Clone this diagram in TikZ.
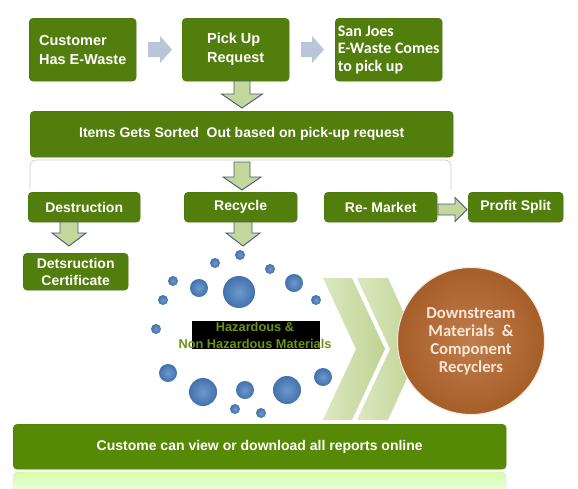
\documentclass[tikz,border=0pt]{standalone}
\usepackage{fontspec}
\setmainfont{Liberation Sans}
\newfontfamily\calfont{Carlito}
\definecolor{boxgreen}{HTML}{517E0D}
\definecolor{boxedge}{HTML}{47700A}
\definecolor{botgreen}{HTML}{568A06}
\definecolor{arrgreen}{HTML}{C3D69B}
\definecolor{arredge}{HTML}{4A5878}
\definecolor{arrgray}{HTML}{BAC6D8}
\definecolor{dotblue}{HTML}{4A7EC0}
\definecolor{chevA}{HTML}{DCE7C0}
\definecolor{chevB}{HTML}{BFD393}
\definecolor{circbrown}{HTML}{B5662C}
\definecolor{circtext}{HTML}{FCE6D6}
\definecolor{hazgreen}{HTML}{6E9216}
\tikzset{
  box/.style={fill=boxgreen, draw=boxedge, rounded corners=4pt, text=white,
    font=\bfseries, inner sep=0pt, anchor=north west},
  greenarrow/.style={draw=arredge, fill=arrgreen, line width=0.9pt, line join=miter},
  grayarrow/.style={fill=arrgray},
}
% down block arrow: x, ytop, ybot, shaft width, head width, head length
\newcommand\blockdown[6]{%
  \path[greenarrow] ({#1-#4/2},#2) -- ({#1+#4/2},#2) -- ({#1+#4/2},{#3-#6}) --
    ({#1+#5/2},{#3-#6}) -- (#1,#3) -- ({#1-#5/2},{#3-#6}) -- ({#1-#4/2},{#3-#6}) -- cycle;}
% right block arrow: xleft, xright, ycenter, shaft width, head width, head length, style
\newcommand\blockright[7]{%
  \path[#7] (#1,{#3-#4/2}) -- ({#2-#6},{#3-#4/2}) -- ({#2-#6},{#3-#5/2}) --
    (#2,#3) -- ({#2-#6},{#3+#5/2}) -- ({#2-#6},{#3+#4/2}) -- (#1,{#3+#4/2}) -- cycle;}
\begin{document}
\begin{tikzpicture}[x=1pt,y=-1pt]
\useasboundingbox (0,0) rectangle (578,488);
\fill[white] (0,0) rectangle (578,488);

% top row
\node[box, minimum width=107pt, minimum height=63pt, font=\bfseries\fontsize{14.5}{19}\selectfont, align=left] (cust) at (29,18) {Customer\\Has E-Waste};
\node[box, minimum width=107pt, minimum height=63pt, font=\bfseries\fontsize{14.5}{19}\selectfont, align=left] (pick) at (182,18) {Pick Up\\Request};
\node[box, minimum width=107pt, minimum height=63pt, font=\calfont\bfseries\fontsize{16}{17.5}\selectfont, align=left] (san) at (335,18) {San Joes\\E-Waste Comes\\to pick up};

\blockright{148}{172}{49.5}{15}{27}{12}{grayarrow}
\blockright{301}{324}{49.5}{15}{27}{12}{grayarrow}

% sorted
\node[box, minimum width=423pt, minimum height=46pt, font=\bfseries\fontsize{14}{16}\selectfont] (sort) at (30,111) {Items Gets Sorted\ \ Out based on pick-up request};
\blockdown{242}{81}{108}{16}{41}{14}

% faded outline box
\draw[gray!40, line width=0.7pt, rounded corners=6pt] (30,190) -- (30,160) -- (451,160) -- (451,190);
\blockdown{242}{162}{190}{16}{38}{13}

% third row
\node[box, minimum width=112pt, minimum height=30pt, font=\bfseries\fontsize{14}{16}\selectfont] (dest) at (28,192) {Destruction};
\node[box, minimum width=113pt, minimum height=30pt, font=\bfseries\fontsize{14}{16}\selectfont] (recy) at (184,192) {Recycle};
\node[box, minimum width=113pt, minimum height=30pt, font=\bfseries\fontsize{14}{16}\selectfont] (remk) at (324,192) {Re- Market};
\node[box, minimum width=95pt, minimum height=30pt, font=\bfseries\fontsize{14}{16}\selectfont] (prof) at (468,192) {Profit Split};
\blockright{438}{467}{209.5}{11}{24}{12}{greenarrow}

\blockdown{69}{222}{246}{18}{34}{13}
\blockdown{243}{222}{246}{18}{34}{13}

\node[box, minimum width=105pt, minimum height=37pt, font=\bfseries\fontsize{14}{17}\selectfont, align=center] (cert) at (23,253) {Detsruction\\Certificate};

% chevrons
\shade[left color=chevA, right color=chevB] (323,278) -- (352,278) -- (385,349) -- (352,420) -- (323,420) -- (356,349) -- cycle;
\shade[left color=chevA, right color=chevB] (357,278) -- (388,278) -- (420,349) -- (388,420) -- (357,420) -- (390,349) -- cycle;

% dots
\foreach \x/\y/\r in {240/255/5, 215/263/5, 270/269/5, 173/281/5, 239/292/16,
  199/288/9, 294/283/9, 163/300/5, 316/300/5, 156/329/5, 168/373/9, 203/392/14,
  245/390/9, 287/390/14, 323/377/9, 235/409/5, 261/413/5}
  \shade[inner color=dotblue!80!white, outer color=dotblue!90!black] (\x,\y) circle[radius=\r];

% hazardous label
\fill[black] (192,321) rectangle (320,349);
\node[text=hazgreen, font=\bfseries\fontsize{12.8}{17}\selectfont, align=center, inner sep=0pt] (haz) at (255,335) {Hazardous \&\\Non Hazardous Materials};

% circle
\node[circle, minimum size=147pt, inner sep=0pt, draw=white!85!circbrown, line width=1pt,
  inner color=circbrown!85!white, outer color=circbrown!92!black,
  text=circtext, font=\calfont\bfseries\fontsize{16.7}{18}\selectfont, align=center] (down) at (471,341) {Downstream\\Materials\ \ \&\\Component\\Recyclers};

% bottom
\node[box, minimum width=493pt, minimum height=45pt, font=\bfseries\fontsize{14}{16}\selectfont, fill=botgreen, draw=botgreen!90!black] (rep) at (13,424) {Custome can view or download all reports online};
\shade[top color=green!30!lime!35!white, bottom color=green!6!white, draw=gray!30, rounded corners=5pt]
  (13,495) -- (13,472) -- (506,472) -- (506,495) -- cycle;
\end{tikzpicture}
\end{document}
